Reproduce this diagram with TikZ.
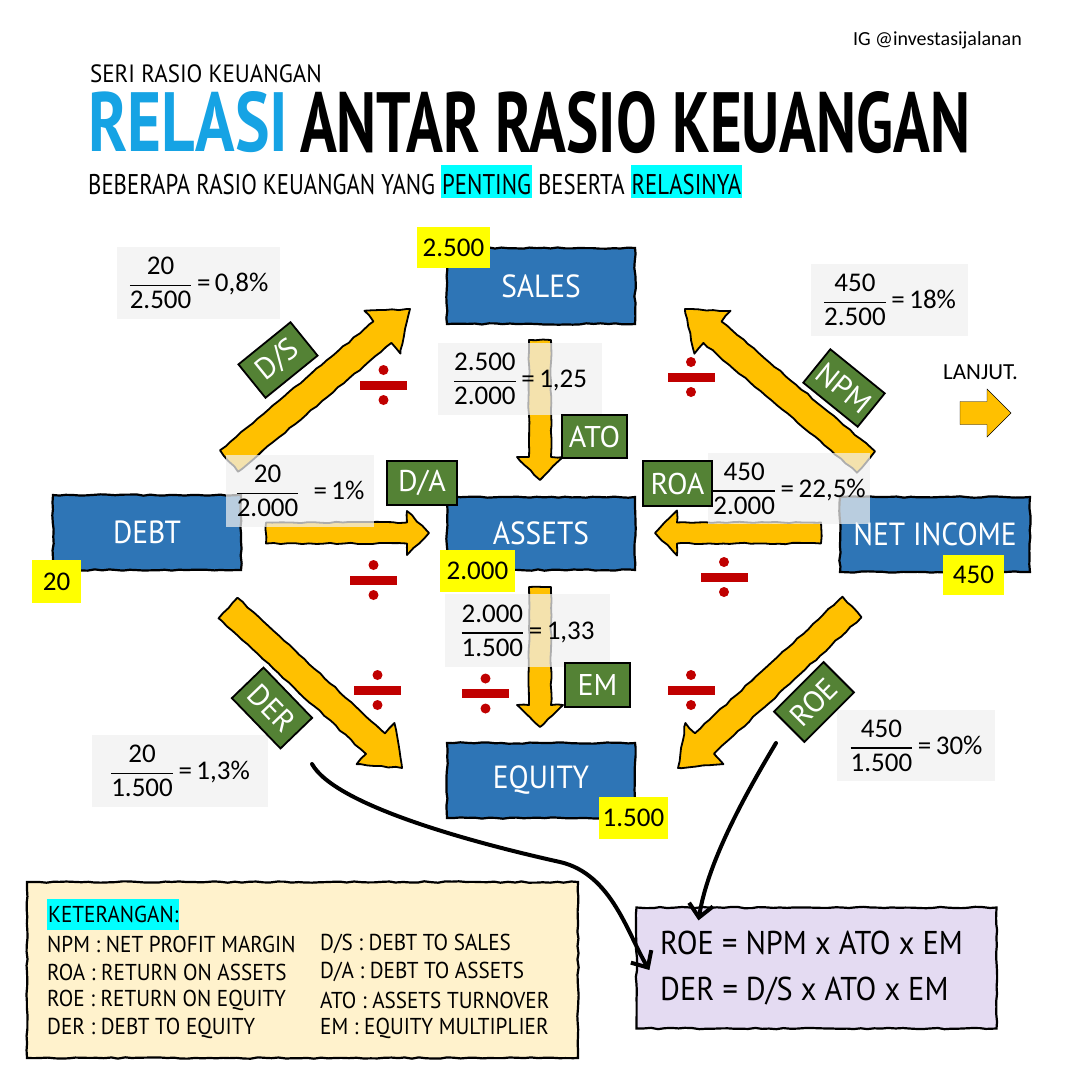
\documentclass[tikz,border=0pt]{standalone}
\usepackage{fontspec}
\usepackage{amsmath}
\usepackage{graphicx}
\setmainfont{Carlito}
\newfontfamily\hand[FakeStretch=0.8]{PT Sans}
\newfontfamily\handw[FakeStretch=0.92]{PT Sans}
\newfontfamily\handn{PT Sans}
\newfontfamily\titlefnt[FakeStretch=0.8]{PT Sans}
\usetikzlibrary{calc,arrows.meta,decorations.pathmorphing}

\definecolor{boxblue}{RGB}{46,117,182}
\definecolor{lblgreen}{RGB}{84,130,53}
\definecolor{arrowyel}{RGB}{255,192,0}
\definecolor{divred}{RGB}{192,0,0}
\definecolor{fgrey}{RGB}{240,240,240}
\definecolor{hlcyan}{RGB}{0,255,255}
\definecolor{relblue}{RGB}{22,163,228}
\definecolor{cream}{RGB}{255,242,204}
\definecolor{lav}{RGB}{228,219,242}
\definecolor{hiyel}{RGB}{255,255,0}

\newcommand\frc[3]{$\genfrac{}{}{1.6pt}{0}{\text{#1}}{\text{#2}}$\,=\,#3}
\newcommand\frcw[3]{$\genfrac{}{}{1.6pt}{0}{\text{#1}}{\text{#2}}$\hspace{14pt}=\,#3}
\newcommand\hlb[1]{{\setlength\fboxsep{1pt}\colorbox{hlcyan}{\rule[-3pt]{0pt}{33pt}#1}}}
\newcommand\blockarrow[6][]{%
  \coordinate (bahead) at ($(#3)!#6!(#2)$);
  \draw[#1] ($(#2)!#4!90:(#3)$) -- ($(bahead)!#4!90:(#3)$) -- ($(bahead)!#5!90:(#3)$) -- (#3)
    -- ($(bahead)!#5!-90:(#3)$) -- ($(bahead)!#4!-90:(#3)$) -- ($(#2)!#4!-90:(#3)$) -- cycle;}

\begin{document}
\begin{tikzpicture}[x=1pt,y=-1pt,
  sketch/.style={decorate,decoration={random steps,segment length=7pt,amplitude=0.7pt}},
  bluebox/.style={draw=black,line width=2.2pt,fill=boxblue,text=white,inner sep=0pt,
    font=\handw\fontsize{32}{32}\selectfont,sketch},
  ylabel/.style={fill=hiyel,inner sep=0pt,font=\fontsize{27}{27}\selectfont},
  fbox/.style={fill=fgrey,fill opacity=0.72,text opacity=1,inner sep=0pt,
    font=\fontsize{27}{30}\selectfont},
  glabel/.style={draw=black,line width=1.8pt,fill=lblgreen,text=white,inner sep=0pt,
    font=\handn\fontsize{30}{30}\selectfont},
  yarrow/.style={fill=arrowyel,draw=black,line width=1.8pt,line join=round,sketch},
  curvearrow/.style={line width=4pt,line cap=round,-{Straight Barb[length=13pt,width=24pt]}},
  ketline/.style={anchor=west,inner sep=0pt,font=\handw\fontsize{23}{23}\selectfont},
  frmline/.style={anchor=west,inner sep=0pt,font=\handw\fontsize{33}{33}\selectfont},
  divsign/.pic={\fill[divred] (-23.5,-4.5) rectangle (23.5,4.5);
    \fill[divred] (0,-15) circle[radius=5pt]; \fill[divred] (0,15) circle[radius=5pt];}
]
\fill[white] (0,0) rectangle (1080,1080);
\useasboundingbox (0,0) rectangle (1080,1080);

% header
\node[anchor=east,inner sep=0pt,font=\fontsize{20}{20}\selectfont] (ig) at (1022,40) {IG @investasijalanan};
\node[anchor=west,inner sep=0pt,font=\handw\fontsize{25}{25}\selectfont] (seri) at (90,73.5) {SERI RASIO KEUANGAN};
\node[anchor=west,inner sep=0pt] (relasi) at (88,122) {\resizebox{200pt}{60pt}{\titlefnt\bfseries\color{relblue}RELASI}};
\node[anchor=west,inner sep=0pt] (antar) at (300,122.5) {\resizebox{670pt}{61pt}{\titlefnt\bfseries ANTAR RASIO KEUANGAN}};
\node[anchor=west,inner sep=0pt] (sub) at (88,181.5) {\resizebox{654pt}{!}{\hand\fontsize{30}{30}\selectfont BEBERAPA RASIO KEUANGAN YANG \hlb{PENTING} BESERTA \hlb{RELASINYA}}};

% blue boxes
\node[bluebox,minimum width=188pt,minimum height=76pt] (sales) at (541,286) {SALES};
\node[bluebox,minimum width=188pt,minimum height=75pt] (debt) at (147,532.5) {DEBT};
\node[bluebox,minimum width=188pt,minimum height=73pt] (assets) at (541,533.5) {ASSETS};
\node[bluebox,minimum width=190pt,minimum height=75pt] (netinc) at (935,534.5) {NET INCOME};
\node[bluebox,minimum width=188pt,minimum height=75pt] (equity) at (541,780.5) {EQUITY};

% yellow value labels
\node[ylabel,minimum width=73pt,minimum height=41pt] (v2500) at (453.5,247.5) {2.500};
\node[ylabel,minimum width=49pt,minimum height=43pt] (v20) at (56.5,581.5) {20};
\node[ylabel,minimum width=75pt,minimum height=42pt] (v2000) at (477.5,571) {2.000};
\node[ylabel,minimum width=61pt,minimum height=40pt] (v450) at (973.5,575) {450};
\node[ylabel,minimum width=69pt,minimum height=42pt] (v1500) at (633.5,818) {1.500};

% block arrows
\coordinate (dsT) at (229,461); \coordinate (dsH) at (410,309);
\coordinate (npmT) at (866,462); \coordinate (npmH) at (685,309);
\coordinate (derT) at (228,608); \coordinate (derH) at (402,768);
\coordinate (roeT) at (852,607); \coordinate (roeH) at (678,768);
\coordinate (atoT) at (540,340); \coordinate (atoH) at (540,480);
\coordinate (emT) at (540,587); \coordinate (emH) at (540,727);
\coordinate (daT) at (266,533); \coordinate (daH) at (429,533);
\coordinate (roaT) at (821,533); \coordinate (roaH) at (655,533);
\blockarrow[yarrow]{dsT}{dsH}{14pt}{28pt}{36pt}
\blockarrow[yarrow]{npmT}{npmH}{14pt}{28pt}{36pt}
\blockarrow[yarrow]{derT}{derH}{14pt}{28pt}{36pt}
\blockarrow[yarrow]{roeT}{roeH}{14pt}{28pt}{36pt}
\blockarrow[yarrow]{atoT}{atoH}{11pt}{23pt}{23pt}
\blockarrow[yarrow]{emT}{emH}{11pt}{23pt}{22pt}
\blockarrow[yarrow]{daT}{daH}{10.5pt}{22pt}{22pt}
\blockarrow[yarrow]{roaT}{roaH}{10.5pt}{22.5pt}{22pt}
% LANJUT arrow
\coordinate (ljT) at (960,413); \coordinate (ljH) at (1011,413);
\blockarrow[fill=arrowyel]{ljT}{ljH}{11.5pt}{24pt}{24pt}
\node[inner sep=0pt,font=\fontsize{23}{23}\selectfont] (lanjut) at (980.5,372) {LANJUT.};

% formula boxes
\node[fbox,minimum width=163pt,minimum height=72pt] (fds) at (198.5,283) {\frc{20}{2.500}{0,8\%}};
\node[fbox,minimum width=164pt,minimum height=72pt] (fato) at (520,379) {\frc{2.500}{2.000}{1,25}};
\node[fbox,minimum width=148pt,minimum height=72pt] (fda) at (300,491) {\frcw{20}{2.000}{1\%}};
\node[fbox,minimum width=162pt,minimum height=71pt] (froa) at (789,488.5) {\frc{450}{2.000}{22,5\%}};
\node[fbox,minimum width=157pt,minimum height=72pt] (fnpm) at (889.5,300) {\frc{450}{2.500}{18\%}};
\node[fbox,minimum width=165pt,minimum height=73pt] (fem) at (527.5,630.5) {\frc{2.000}{1.500}{1,33}};
\node[fbox,minimum width=176pt,minimum height=72pt] (fder) at (180,771) {\frc{20}{1.500}{1,3\%}};
\node[fbox,minimum width=158pt,minimum height=71pt] (froe) at (916,745.5) {\frc{450}{1.500}{30\%}};

% green labels
\node[glabel,minimum width=67pt,minimum height=43pt,rotate=39] (lds) at (278,360) {D/S};
\node[glabel,minimum width=70pt,minimum height=43pt,rotate=-39] (lnpm) at (844,388) {NPM};
\node[glabel,minimum width=70pt,minimum height=44pt,rotate=-46] (lder) at (272,708) {DER};
\node[glabel,minimum width=70pt,minimum height=43pt,rotate=45] (lroe) at (814,702) {ROE};
\node[glabel,minimum width=65pt,minimum height=43pt] (lato) at (594.5,436.5) {ATO};
\node[glabel,minimum width=70pt,minimum height=44pt] (lda) at (422,483) {D/A};
\node[glabel,minimum width=69pt,minimum height=45pt] (lroa) at (677.5,483.5) {ROA};
\node[glabel,minimum width=65pt,minimum height=44pt] (lem) at (597.5,685) {EM};

% divide signs
\pic at (383.5,385) {divsign};
\pic at (691,377) {divsign};
\pic at (373.5,580) {divsign};
\pic at (724,577) {divsign};
\pic at (377.5,690) {divsign};
\pic at (485.5,693.5) {divsign};
\pic at (691,690) {divsign};

% legend box
\node[draw=black,line width=2.2pt,fill=cream,minimum width=551pt,minimum height=176pt,sketch] (ket) at (302.5,970) {};
\node[anchor=west,fill=hlcyan,inner xsep=1pt,inner ysep=0pt,minimum height=31pt,font=\handw\fontsize{23}{23}\selectfont] (kh) at (47,914) {KETERANGAN:};
\node[ketline] (k1) at (47,944) {NPM : NET PROFIT MARGIN};
\node[ketline] (k2) at (47,972) {ROA : RETURN ON ASSETS};
\node[ketline] (k3) at (47,1000) {ROE : RETURN ON EQUITY};
\node[ketline] (k4) at (47,1028) {DER : DEBT TO EQUITY};
\node[ketline] (k5) at (320,944) {D/S : DEBT TO SALES};
\node[ketline] (k6) at (320,972) {D/A : DEBT TO ASSETS};
\node[ketline] (k7) at (320,1000) {ATO : ASSETS TURNOVER};
\node[ketline] (k8) at (320,1028) {EM : EQUITY MULTIPLIER};

% formula box
\node[draw=black,line width=2.2pt,fill=lav,minimum width=360pt,minimum height=121pt,sketch] (frm) at (816.5,968) {};
\node[frmline] (roeeq) at (660,943) {ROE = NPM x ATO x EM};
\node[frmline] (dereq) at (660,991.5) {DER = D/S x ATO x EM};

% curved arrows
\coordinate (c1s) at (312,764);
\coordinate (c2s) at (776,743);
\draw[curvearrow] (c1s) .. controls (335,805) and (470,842) .. (560,862)
  .. controls (612,874) and (628,935) .. ([xshift=14pt,yshift=-2pt]frm.west);
\draw[curvearrow] (c2s) .. controls (748,790) and (708,860) .. ([xshift=-118pt,yshift=-14pt]frm.north);
\end{tikzpicture}
\end{document}
